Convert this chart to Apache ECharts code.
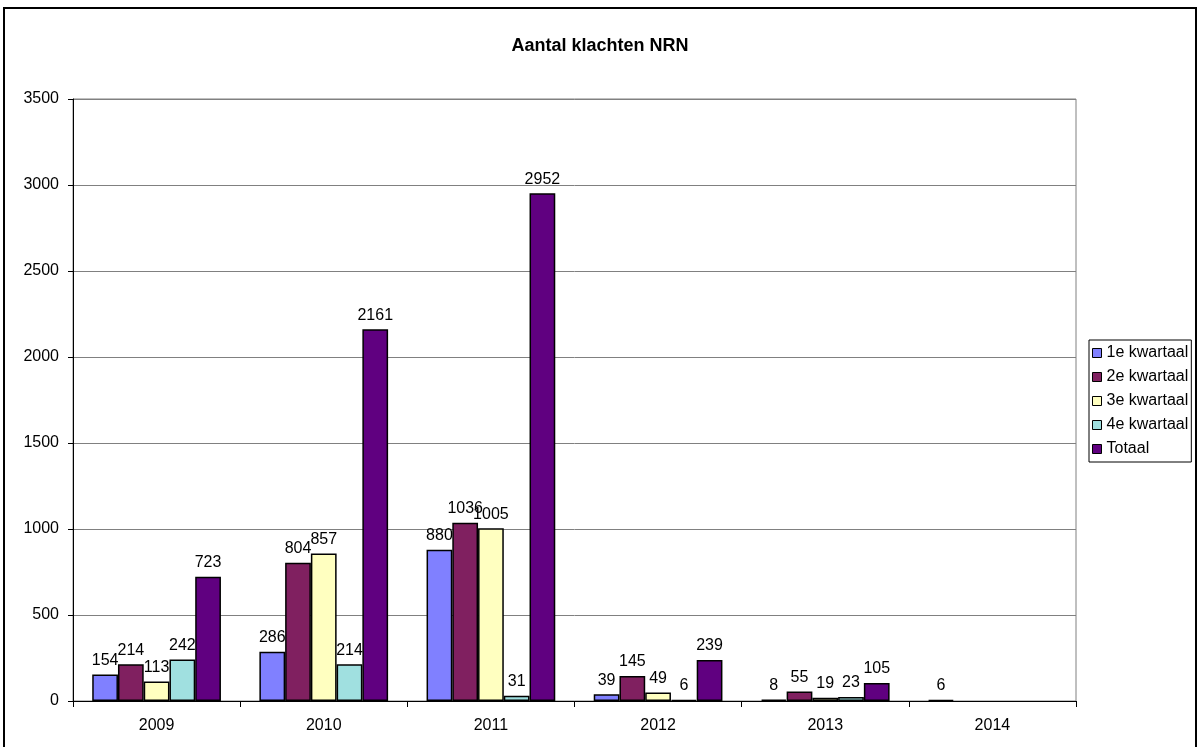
<!DOCTYPE html>
<html><head><meta charset="utf-8">
<script src="https://cdn.jsdelivr.net/npm/echarts@6/dist/echarts.min.js"></script>
<style>html,body{margin:0;padding:0;background:#fff}#c{width:1200px;height:747px}</style>
</head><body><div id="c"></div>
<script>
const categories = ['2009','2010','2011','2012','2013','2014'];
const seriesNames = ['1e kwartaal','2e kwartaal','3e kwartaal','4e kwartaal','Totaal'];
const q1 = [154, 286, 880, 39, 8, 6];
const q2 = [214, 804, 1036, 145, 55, null];
const q3 = [113, 857, 1005, 49, 19, null];
const q4 = [242, 214, 31, 6, 23, null];
const totaal = [723, 2161, 2952, 239, 105, null];
const colors = ['#8080FF','#802060','#FFFFC0','#A0E0E0','#600080'];
const values = [q1,q2,q3,q4,totaal];
const font = 'Liberation Sans, Arial, sans-serif';

const chart = echarts.init(document.getElementById('c'));
chart.setOption({
  animation:false,
  backgroundColor:'#fff',
  title:{text:'Aantal klachten NRN',left:'center',top:32,
    textStyle:{fontFamily:font,fontSize:18,fontWeight:'bold',color:'#000'}},
  graphic:[{type:'rect',shape:{x:4,y:8,width:1192,height:760},
    style:{fill:null,stroke:'#000',lineWidth:2},silent:true,z:-1}],
  legend:{orient:'vertical',left:1089,top:340,
    data:seriesNames,itemWidth:9,itemHeight:9,itemGap:8,icon:'rect',
    borderColor:'#000',borderWidth:1,padding:[5,3,5,3],
    textStyle:{fontFamily:font,fontSize:16,lineHeight:16,color:'#000',padding:[0,0,0,0]},
    itemStyle:{borderColor:'#000',borderWidth:1}},
  grid:{left:73,right:124,top:99,bottom:46,show:true,borderColor:'#808080',borderWidth:1},
  xAxis:{type:'category',data:categories,
    axisLine:{lineStyle:{color:'#000',width:1}},
    axisTick:{show:true,length:6,lineStyle:{color:'#000'}},
    axisLabel:{fontFamily:font,fontSize:16,color:'#000',margin:17}},
  yAxis:{type:'value',min:0,max:3500,interval:500,
    axisLine:{show:true,lineStyle:{color:'#000',width:1}},
    axisTick:{show:true,length:5,lineStyle:{color:'#000'}},
    splitLine:{lineStyle:{color:'#808080',width:1}},
    axisLabel:{fontFamily:font,fontSize:16,color:'#000',margin:14,formatter:v=>String(v)}},
  series: seriesNames.map((n,i)=>({
    name:n,type:'bar',data:values[i],
    barGap:'0%',barCategoryGap:'23%',
    itemStyle:{color:colors[i],borderColor:'#000',borderWidth:1.5},
    label:{show:true,position:'top',distance:6,fontFamily:font,fontSize:16,color:'#000'}
  }))
});
</script></body></html>
